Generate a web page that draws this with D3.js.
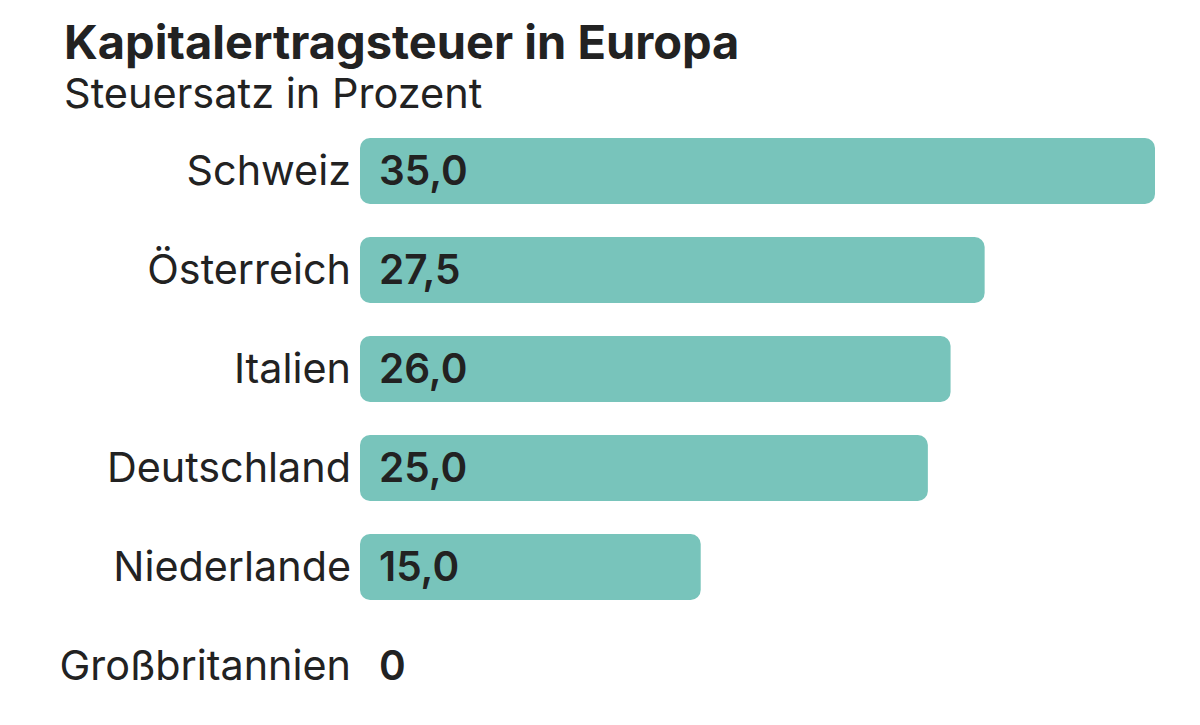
<!DOCTYPE html>
<html>
<head>
  <meta charset="utf-8">
  <title>Kapitalertragsteuer in Europa</title>
  <script src="https://d3js.org/d3.v7.min.js"></script>
  <style>
    body { margin: 0; background: #fff; }
    text { font-family: Inter, "Noto Sans", sans-serif; fill: #222; }
  </style>
</head>
<body>
  <svg id="grafico"></svg>

  <script>
    const laender = ["Schweiz", "Österreich", "Italien", "Deutschland", "Niederlande", "Großbritannien"];
    const steuersatz = [35.0, 27.5, 26.0, 25.0, 15.0, 0];

    const breite = 1200, hoehe = 725;
    const svg = d3.select("#grafico")
      .attr("width", breite)
      .attr("height", hoehe);

    const x = d3.scaleLinear().domain([0, 35]).range([360, 1155]);
    const y = d3.scaleBand().domain(laender).range([138, 699]).paddingInner(1 / 3).paddingOuter(0);

    svg.append("text")
      .attr("x", 64).attr("y", 59)
      .style("font-size", "47px").style("font-weight", 700)
      .text("Kapitalertragsteuer in Europa");

    svg.append("text")
      .attr("x", 64).attr("y", 108)
      .style("font-size", "41.5px").style("font-weight", 400)
      .text("Steuersatz in Prozent");

    const zeilen = laender.map((land, i) => ({ land, wert: steuersatz[i] }));

    svg.selectAll(".balken")
      .data(zeilen.filter(d => d.wert > 0))
      .enter()
      .append("rect")
      .attr("class", "balken")
      .attr("x", x(0))
      .attr("y", d => y(d.land))
      .attr("width", d => x(d.wert) - x(0))
      .attr("height", y.bandwidth())
      .attr("rx", 10)
      .style("fill", "#78c4bb");

    svg.selectAll(".land")
      .data(zeilen)
      .enter()
      .append("text")
      .attr("class", "land")
      .attr("x", 351)
      .attr("y", d => y(d.land) + y.bandwidth() / 2)
      .attr("dy", "0.35em")
      .attr("text-anchor", "end")
      .style("font-size", "41.3px")
      .text(d => d.land);

    const fmt = d => d === 0 ? "0" : d.toFixed(1).replace(".", ",");

    svg.selectAll(".wert")
      .data(zeilen)
      .enter()
      .append("text")
      .attr("class", "wert")
      .attr("x", 379)
      .attr("y", d => y(d.land) + y.bandwidth() / 2)
      .attr("dy", "0.35em")
      .style("font-size", "40.5px")
      .style("font-weight", 600)
      .text(d => fmt(d.wert));
  </script>
</body>
</html>
